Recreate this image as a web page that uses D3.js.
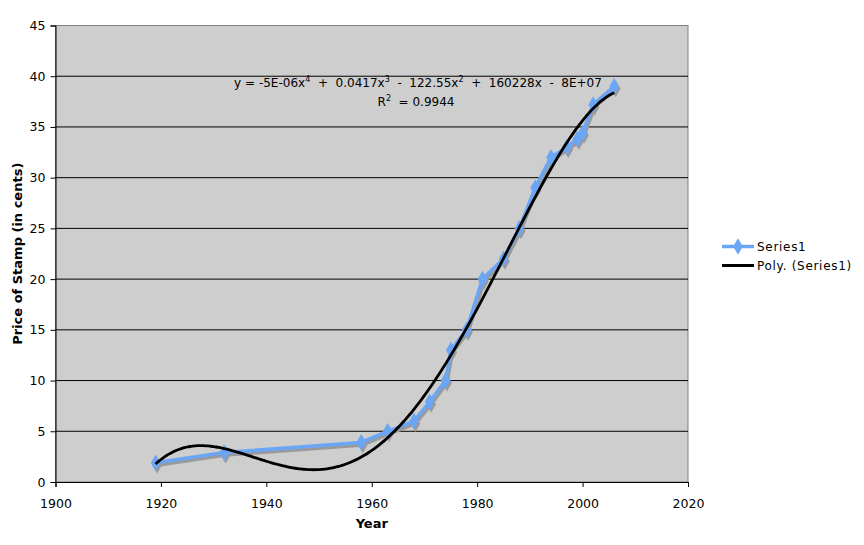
<!DOCTYPE html>
<html>
<head>
<meta charset="utf-8">
<script src="https://cdn.jsdelivr.net/npm/d3@7"></script>
<style>
  body { margin: 0; background: #fff; }
  text { font-family: "DejaVu Sans", Verdana, sans-serif; }
</style>
</head>
<body>
<div id="chart"></div>
<script>
// stamp price by year
var years  = [1919, 1932, 1958, 1963, 1968, 1971, 1974, 1975, 1978, 1981, 1985, 1988, 1991, 1994, 1997, 1999, 2000, 2002, 2006];
var prices = [1.9,  2.9,  3.9,  5.0,  6.0,  7.9,  10,   13,   15,   20,   22,   25,   29,   32,   33,   33.8, 34.4, 37.2, 39];
var xTicks = [1900, 1920, 1940, 1960, 1980, 2000, 2020];
var yTicks = [0, 5, 10, 15, 20, 25, 30, 35, 40, 45];
// equation pieces: [text, superscript]
var equationParts = [["y = -5E-06x", "4"], ["  +  0.0417x", "3"], ["  -  122.55x", "2"], ["  +  160228x  -  8E+07", ""]];
var rSquaredParts = [["R", "2"], ["  = 0.9944", ""]];
var legendNames = ["Series1", "Poly. (Series1)"];

var width = 864, height = 545;
var margin = {left: 55.5, top: 25.5, right: 176, bottom: 63};

var svg = d3.select("#chart").append("svg")
  .attr("width", width).attr("height", height);

var x = d3.scaleLinear().domain([1900, 2020]).range([margin.left, width - margin.right]);
var y = d3.scaleLinear().domain([0, 45]).range([height - margin.bottom, margin.top]);

// plot background
svg.append("rect")
  .attr("x", x(1900)).attr("y", y(45))
  .attr("width", x(2020) - x(1900)).attr("height", y(0) - y(45))
  .attr("fill", "#cecece").attr("stroke", "#808080").attr("stroke-width", 1);

// gridlines
svg.append("g").selectAll("line")
  .data(yTicks.filter(function(d){ return d > 0 && d < 45; }))
  .enter().append("line")
  .attr("x1", x(1900)).attr("x2", x(2020))
  .attr("y1", function(d){ return y(d); }).attr("y2", function(d){ return y(d); })
  .attr("stroke", "#000").attr("stroke-width", 1);

// axes
var xAxis = svg.append("g")
  .attr("transform", "translate(0," + y(0) + ")")
  .call(d3.axisBottom(x).tickValues(xTicks).tickFormat(d3.format("d")).tickSizeOuter(0).tickSize(5).tickPadding(12));
var yAxis = svg.append("g")
  .attr("transform", "translate(" + x(1900) + ",0)")
  .call(d3.axisLeft(y).tickValues(yTicks).tickSizeOuter(0).tickSize(5).tickPadding(5));
[xAxis, yAxis].forEach(function(a){
  a.selectAll("text").style("font-size", "12.5px").style("font-family", "DejaVu Sans, sans-serif").attr("fill", "#000");
  a.select(".domain").attr("stroke", "#000");
  a.selectAll(".tick line").attr("stroke", "#000");
});

svg.append("text")
  .attr("x", x(1960)).attr("y", 528)
  .attr("text-anchor", "middle")
  .style("font-size", "13px").style("font-weight", "bold")
  .text("Year");
svg.append("text")
  .attr("transform", "translate(22," + y(22.5) + ") rotate(-90)")
  .attr("text-anchor", "middle")
  .style("font-size", "13px").style("font-weight", "bold")
  .text("Price of Stamp (in cents)");

// polynomial trendline (order 4 least squares on the data)
function polyFit(xs, ys, order) {
  var n = order + 1, A = [], b = [];
  for (var i = 0; i < n; i++) { A.push(new Array(n).fill(0)); b.push(0); }
  xs.forEach(function(xv, k){
    var t = (xv - 1960) / 50;
    for (var i = 0; i < n; i++) {
      for (var j = 0; j < n; j++) A[i][j] += Math.pow(t, i + j);
      b[i] += ys[k] * Math.pow(t, i);
    }
  });
  for (var c = 0; c < n; c++) {
    var p = c;
    for (var r = c + 1; r < n; r++) if (Math.abs(A[r][c]) > Math.abs(A[p][c])) p = r;
    var tmp = A[c]; A[c] = A[p]; A[p] = tmp; var tb = b[c]; b[c] = b[p]; b[p] = tb;
    for (var r = c + 1; r < n; r++) {
      var f = A[r][c] / A[c][c];
      for (var j = c; j < n; j++) A[r][j] -= f * A[c][j];
      b[r] -= f * b[c];
    }
  }
  var coef = new Array(n).fill(0);
  for (var i = n - 1; i >= 0; i--) {
    var s = b[i];
    for (var j = i + 1; j < n; j++) s -= A[i][j] * coef[j];
    coef[i] = s / A[i][i];
  }
  return function(xv){
    var t = (xv - 1960) / 50, s = 0;
    for (var i = 0; i < n; i++) s += coef[i] * Math.pow(t, i);
    return s;
  };
}
var trend = polyFit(years, prices, 4);
var trendPts = d3.range(years[0], years[years.length - 1] + 0.01, 0.5);

var pts = years.map(function(d, i){ return [d, prices[i]]; });
var line = d3.line().x(function(d){ return x(d[0]); }).y(function(d){ return y(d[1]); });
var diamond = d3.symbol().type(d3.symbolDiamond).size(80);

// shadow
var shadow = svg.append("g").attr("transform", "translate(1.5,2.5)");
shadow.append("path").datum(pts).attr("d", line)
  .attr("fill", "none").attr("stroke", "#9a9a9a").attr("stroke-width", 3.5).attr("stroke-linejoin", "round");
shadow.selectAll("path.m").data(pts).enter().append("path").attr("class", "m")
  .attr("d", diamond)
  .attr("transform", function(d){ return "translate(" + x(d[0]) + "," + y(d[1]) + ")"; })
  .attr("fill", "#9a9a9a");

// series line
svg.append("path").datum(pts).attr("d", line)
  .attr("fill", "none").attr("stroke", "#6aa6f5").attr("stroke-width", 3.5).attr("stroke-linejoin", "round");
svg.selectAll("path.marker").data(pts).enter().append("path").attr("class", "marker")
  .attr("d", diamond)
  .attr("transform", function(d){ return "translate(" + x(d[0]) + "," + y(d[1]) + ")"; })
  .attr("fill", "#6aa6f5");

// trend
svg.append("path").datum(trendPts)
  .attr("d", d3.line().x(function(d){ return x(d); }).y(function(d){ return y(trend(d)); }).curve(d3.curveBasis))
  .attr("fill", "none").attr("stroke", "#000").attr("stroke-width", 2.8);

// equation text with raised exponents
function richText(parts, cx, cy) {
  var t = svg.append("text").attr("x", cx).attr("y", cy).attr("text-anchor", "middle")
    .style("font-size", "12px").style("white-space", "pre").attr("xml:space", "preserve");
  var back = 0;
  parts.forEach(function(p){
    t.append("tspan").attr("dy", back).text(p[0]);
    back = 0;
    if (p[1]) {
      t.append("tspan").attr("dy", -5).style("font-size", "8px").text(p[1]);
      back = 5;
    }
  });
}
richText(equationParts, 418, 87);
richText(rSquaredParts, 416, 106);

// legend
var lg = svg.append("g");
lg.append("line").attr("x1", 722).attr("x2", 754).attr("y1", 246.5).attr("y2", 246.5)
  .attr("stroke", "#6aa6f5").attr("stroke-width", 3.5);
lg.append("path").attr("d", diamond).attr("transform", "translate(738,246.5)").attr("fill", "#6aa6f5");
lg.append("line").attr("x1", 722).attr("x2", 754).attr("y1", 265.5).attr("y2", 265.5)
  .attr("stroke", "#000").attr("stroke-width", 3);
lg.selectAll("text").data(legendNames).enter().append("text")
  .attr("x", 757).attr("y", function(d, i){ return 250.5 + i * 19; })
  .style("font-size", "12px").style("letter-spacing", "0.7px").text(function(d){ return d; });
</script>
</body>
</html>
